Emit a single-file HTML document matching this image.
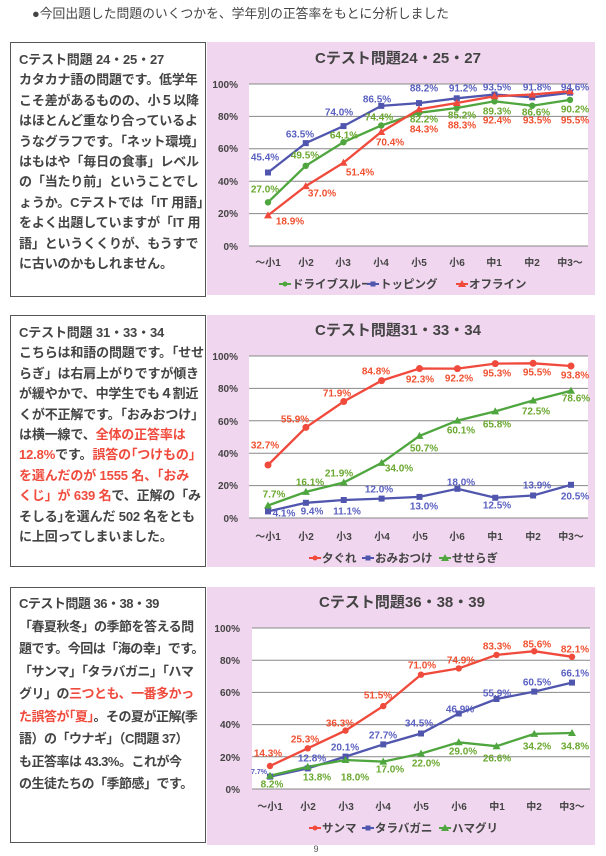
<!DOCTYPE html>
<html><head><meta charset="utf-8"><style>
body{margin:0;width:606px;height:856px;background:#fff;position:relative;overflow:hidden;font-family:"Liberation Sans","Noto Sans CJK JP",sans-serif;}
.hdr{position:absolute;left:32px;top:3px;font-size:12.8px;color:#444;white-space:nowrap;}
.box{position:absolute;left:10px;width:196px;border:1px solid #555;background:#fff;box-sizing:border-box;padding:4px 0 0 8px;font-size:13px;font-weight:bold;color:#444;white-space:nowrap;letter-spacing:-0.15px;}
.box div{height:20.4px;line-height:20.4px;}
.r{color:#f04a3c;}
svg{position:absolute;left:0;top:0;}
svg text{font-family:"Liberation Sans","Noto Sans CJK JP",sans-serif;font-weight:bold;}
polyline{stroke-width:2.3;}
</style></head><body>
<div class="hdr">●今回出題した問題のいくつかを、学年別の正答率をもとに分析しました</div>

<div class="box" style="top:42px;height:255px;padding-top:7px;">
<div>Cテスト問題 24・25・27</div>
<div>カタカナ語の問題です。低学年</div>
<div>こそ差があるものの、小５以降</div>
<div>はほとんど重なり合っているよ</div>
<div>うなグラフです。「ネット環境」</div>
<div>はもはや「毎日の食事」レベル</div>
<div>の「当たり前」ということでし</div>
<div>ょうか。Cテストでは「IT 用語」</div>
<div>をよく出題していますが「IT 用</div>
<div>語」というくくりが、もうすで</div>
<div>に古いのかもしれません。</div>
</div>

<div class="box" style="top:315px;height:252px;padding-top:7px;">
<div>Cテスト問題 31・33・34</div>
<div>こちらは和語の問題です。｢せせ</div>
<div>らぎ」は右肩上がりですが傾き</div>
<div>が緩やかで、中学生でも４割近</div>
<div>くが不正解です。「おみおつけ」</div>
<div>は横一線で、<span class="r">全体の正答率は</span></div>
<div><span class="r">12.8%</span>です。<span class="r">誤答の｢つけもの｣</span></div>
<div class="r">を選んだのが 1555 名、「おみ</div>
<div><span class="r">くじ」が 639 名</span>で、正解の「み</div>
<div>そしる｣を選んだ 502 名をとも</div>
<div>に上回ってしまいました。</div>
</div>

<div class="box" style="top:587px;height:256px;padding-top:5px;letter-spacing:-0.5px;">
<div style="height:22.5px;line-height:22.5px">Cテスト問題 36・38・39</div>
<div style="height:22.5px;line-height:22.5px">「春夏秋冬」の季節を答える問</div>
<div style="height:22.5px;line-height:22.5px">題です。今回は「海の幸」です。</div>
<div style="height:22.5px;line-height:22.5px">「サンマ」「タラバガニ」「ハマ</div>
<div style="height:22.5px;line-height:22.5px">グリ」の<span class="r">三つとも、一番多かっ</span></div>
<div style="height:22.5px;line-height:22.5px"><span class="r">た誤答が｢夏｣</span>。その夏が正解(季</div>
<div style="height:22.5px;line-height:22.5px">語）の「ウナギ」（C問題 37）</div>
<div style="height:22.5px;line-height:22.5px">も正答率は 43.3%。これが今</div>
<div style="height:22.5px;line-height:22.5px">の生徒たちの「季節感」です。</div>
</div>

<svg width="606" height="856" viewBox="0 0 606 856">
<defs>
<path id="tri" d="M0,-4 L4,3 L-4,3Z"/>
</defs>
<rect x="207" y="42" width="388" height="253" fill="#f1d6ef"/>
<rect x="207" y="315" width="388" height="252" fill="#f1d6ef"/>
<rect x="207" y="587" width="388" height="258" fill="#f1d6ef"/>

<!-- Chart 1 -->
<rect x="249" y="84" width="339" height="162" fill="#fff"/>
<g stroke="#888" stroke-width="1">
<line x1="249" y1="84" x2="588" y2="84"/><line x1="249" y1="116.4" x2="588" y2="116.4"/><line x1="249" y1="148.8" x2="588" y2="148.8"/><line x1="249" y1="181.2" x2="588" y2="181.2"/><line x1="249" y1="213.6" x2="588" y2="213.6"/><line x1="249" y1="246" x2="588" y2="246"/>
</g>
<text x="398" y="63" font-size="15" fill="#444" text-anchor="middle">Cテスト問題24・25・27</text>
<g font-size="10" fill="#444" text-anchor="end">
<text x="238" y="88">100%</text><text x="238" y="120">80%</text><text x="238" y="152">60%</text><text x="238" y="185">40%</text><text x="238" y="217">20%</text><text x="238" y="250">0%</text>
</g>
<g font-size="10" fill="#444" text-anchor="middle">
<text x="268" y="266">～小1</text><text x="306" y="266">小2</text><text x="343" y="266">小3</text><text x="381" y="266">小4</text><text x="419" y="266">小5</text><text x="457" y="266">小6</text><text x="494" y="266">中1</text><text x="532" y="266">中2</text><text x="570" y="266">中3～</text>
</g>
<polyline fill="none" stroke="#4fa63f" points="268,202.3 305.75,165.8 343.5,142.2 381.25,125.5 419,112.8 456.75,108 494.5,101.3 532.25,105.7 570,99.9"/>
<polyline fill="none" stroke="#5056ae" points="268,172.5 305.75,143.1 343.5,126.1 381.25,105.9 419,103.1 456.75,98.3 494.5,94.5 532.25,97.3 570,92.7"/>
<polyline fill="none" stroke="#f04a3c" points="268,215.4 305.75,186.1 343.5,162.7 381.25,132 419,109.4 456.75,103 494.5,96.3 532.25,94.5 570,91.3"/>
<g fill="#4fa63f"><circle cx="268" cy="202.3" r="3.2"/><circle cx="305.75" cy="165.8" r="3.2"/><circle cx="343.5" cy="142.2" r="3.2"/><circle cx="381.25" cy="125.5" r="3.2"/><circle cx="419" cy="112.8" r="3.2"/><circle cx="456.75" cy="108" r="3.2"/><circle cx="494.5" cy="101.3" r="3.2"/><circle cx="532.25" cy="105.7" r="3.2"/><circle cx="570" cy="99.9" r="3.2"/></g>
<g fill="#5056ae"><rect x="265" y="169.5" width="6" height="6"/><rect x="302.75" y="140.1" width="6" height="6"/><rect x="340.5" y="123.1" width="6" height="6"/><rect x="378.25" y="102.9" width="6" height="6"/><rect x="416" y="100.1" width="6" height="6"/><rect x="453.75" y="95.3" width="6" height="6"/><rect x="491.5" y="91.5" width="6" height="6"/><rect x="529.25" y="94.3" width="6" height="6"/><rect x="567" y="89.7" width="6" height="6"/></g>
<g fill="#f04a3c"><use href="#tri" x="268" y="215.4"/><use href="#tri" x="305.75" y="186.1"/><use href="#tri" x="343.5" y="162.7"/><use href="#tri" x="381.25" y="132"/><use href="#tri" x="419" y="109.4"/><use href="#tri" x="456.75" y="103"/><use href="#tri" x="494.5" y="96.3"/><use href="#tri" x="532.25" y="94.5"/><use href="#tri" x="570" y="91.3"/></g>
<g font-size="10" text-anchor="middle" dominant-baseline="middle">
<g fill="#5a60c0"><text x="265" y="158">45.4%</text><text x="300" y="135">63.5%</text><text x="339" y="113">74.0%</text><text x="377" y="100">86.5%</text><text x="424" y="89">88.2%</text><text x="463" y="89">91.2%</text><text x="497" y="88">93.5%</text><text x="537" y="88">91.8%</text><text x="575" y="88">94.6%</text></g>
<g fill="#6aa830"><text x="265" y="190">27.0%</text><text x="305" y="156">49.5%</text><text x="344" y="136">64.1%</text><text x="379" y="118">74.4%</text><text x="424" y="120">82.2%</text><text x="462" y="116">85.2%</text><text x="497" y="112">89.3%</text><text x="536" y="113">86.6%</text><text x="575" y="110">90.2%</text></g>
<g fill="#f05030"><text x="290" y="222">18.9%</text><text x="322" y="194">37.0%</text><text x="360" y="173">51.4%</text><text x="390" y="143">70.4%</text><text x="424" y="130">84.3%</text><text x="462" y="126">88.3%</text><text x="497" y="121">92.4%</text><text x="537" y="121">93.5%</text><text x="575" y="121">95.5%</text></g>
</g>
<g font-size="11.5" fill="#444">
<line x1="279" y1="284" x2="291" y2="284" stroke="#4fa63f" stroke-width="2"/><circle cx="285" cy="284" r="2.5" fill="#4fa63f"/><text x="292" y="288">ドライブスルー</text>
<line x1="367" y1="284" x2="379" y2="284" stroke="#5056ae" stroke-width="2"/><rect x="370.5" y="281.5" width="5" height="5" fill="#5056ae"/><text x="380" y="288">トッピング</text>
<line x1="456" y1="284" x2="468" y2="284" stroke="#f04a3c" stroke-width="2"/><use href="#tri" x="462" y="284" fill="#f04a3c"/><text x="469" y="288">オフライン</text>
</g>

<!-- Chart 2 -->
<rect x="249" y="356" width="339" height="162" fill="#fff"/>
<g stroke="#888" stroke-width="1">
<line x1="249" y1="356" x2="588" y2="356"/><line x1="249" y1="388.4" x2="588" y2="388.4"/><line x1="249" y1="420.8" x2="588" y2="420.8"/><line x1="249" y1="453.2" x2="588" y2="453.2"/><line x1="249" y1="485.6" x2="588" y2="485.6"/><line x1="249" y1="518" x2="588" y2="518"/>
</g>
<text x="398" y="335" font-size="15" fill="#444" text-anchor="middle">Cテスト問題31・33・34</text>
<g font-size="10" fill="#444" text-anchor="end">
<text x="238" y="360">100%</text><text x="238" y="392">80%</text><text x="238" y="425">60%</text><text x="238" y="457">40%</text><text x="238" y="489">20%</text><text x="238" y="522">0%</text>
</g>
<g font-size="10" fill="#444" text-anchor="middle">
<text x="268" y="540">～小1</text><text x="306" y="540">小2</text><text x="344" y="540">小3</text><text x="382" y="540">小4</text><text x="420" y="540">小5</text><text x="457" y="540">小6</text><text x="495" y="540">中1</text><text x="533" y="540">中2</text><text x="571" y="540">中3～</text>
</g>
<polyline fill="none" stroke="#f04a3c" points="268,465 305.9,427.4 343.75,401.5 381.6,380.6 419.5,368.5 457.4,368.6 495.25,363.6 533.1,363.3 571,366"/>
<polyline fill="none" stroke="#5056ae" points="268,511.4 305.9,502.8 343.75,500 381.6,498.6 419.5,496.9 457.4,488.8 495.25,497.75 533.1,495.5 571,484.8"/>
<polyline fill="none" stroke="#4fa63f" points="268,505.5 305.9,491.9 343.75,482.5 381.6,462.9 419.5,435.9 457.4,420.6 495.25,411.4 533.1,400.5 571,390.7"/>
<g fill="#f04a3c"><circle cx="268" cy="465" r="3.5"/><circle cx="305.9" cy="427.4" r="3.5"/><circle cx="343.75" cy="401.5" r="3.5"/><circle cx="381.6" cy="380.6" r="3.5"/><circle cx="419.5" cy="368.5" r="3.5"/><circle cx="457.4" cy="368.6" r="3.5"/><circle cx="495.25" cy="363.6" r="3.5"/><circle cx="533.1" cy="363.3" r="3.5"/><circle cx="571" cy="366" r="3.5"/></g>
<g fill="#5056ae"><rect x="265" y="508.4" width="6" height="6"/><rect x="302.9" y="499.8" width="6" height="6"/><rect x="340.75" y="497" width="6" height="6"/><rect x="378.6" y="495.6" width="6" height="6"/><rect x="416.5" y="493.9" width="6" height="6"/><rect x="454.4" y="485.8" width="6" height="6"/><rect x="492.25" y="494.75" width="6" height="6"/><rect x="530.1" y="492.5" width="6" height="6"/><rect x="568" y="481.8" width="6" height="6"/></g>
<g fill="#4fa63f"><use href="#tri" x="268" y="505.5"/><use href="#tri" x="305.9" y="491.9"/><use href="#tri" x="343.75" y="482.5"/><use href="#tri" x="381.6" y="462.9"/><use href="#tri" x="419.5" y="435.9"/><use href="#tri" x="457.4" y="420.6"/><use href="#tri" x="495.25" y="411.4"/><use href="#tri" x="533.1" y="400.5"/><use href="#tri" x="571" y="390.7"/></g>
<g font-size="10" text-anchor="middle" dominant-baseline="middle">
<g fill="#f05030"><text x="265" y="446">32.7%</text><text x="295" y="420">55.9%</text><text x="337" y="394">71.9%</text><text x="376" y="372">84.8%</text><text x="420" y="380">92.3%</text><text x="459" y="379">92.2%</text><text x="497" y="374">95.3%</text><text x="537" y="373">95.5%</text><text x="575" y="376">93.8%</text></g>
<g fill="#6aa830"><text x="274" y="495">7.7%</text><text x="310" y="483">16.1%</text><text x="339" y="474">21.9%</text><text x="399" y="469">34.0%</text><text x="424" y="449">50.7%</text><text x="461" y="431">60.1%</text><text x="497" y="425">65.8%</text><text x="536" y="412">72.5%</text><text x="576" y="399">78.6%</text></g>
<g fill="#5a60c0"><text x="284" y="514">4.1%</text><text x="312" y="512">9.4%</text><text x="347" y="512">11.1%</text><text x="379" y="490">12.0%</text><text x="424" y="507">13.0%</text><text x="461" y="483">18.0%</text><text x="497" y="506">12.5%</text><text x="537" y="486">13.9%</text><text x="575" y="497">20.5%</text></g>
</g>
<g font-size="11.5" fill="#444">
<line x1="309" y1="558" x2="321" y2="558" stroke="#f04a3c" stroke-width="2"/><circle cx="315" cy="558" r="2.5" fill="#f04a3c"/><text x="322" y="562">夕ぐれ</text>
<line x1="362" y1="558" x2="374" y2="558" stroke="#5056ae" stroke-width="2"/><rect x="365.5" y="555.5" width="5" height="5" fill="#5056ae"/><text x="375" y="562">おみおつけ</text>
<line x1="439" y1="558" x2="451" y2="558" stroke="#4fa63f" stroke-width="2"/><use href="#tri" x="445" y="558" fill="#4fa63f"/><text x="452" y="562">せせらぎ</text>
</g>

<!-- Chart 3 -->
<rect x="252" y="628" width="338" height="161" fill="#fff"/>
<g stroke="#888" stroke-width="1">
<line x1="252" y1="628" x2="590" y2="628"/><line x1="252" y1="660.2" x2="590" y2="660.2"/><line x1="252" y1="692.4" x2="590" y2="692.4"/><line x1="252" y1="724.6" x2="590" y2="724.6"/><line x1="252" y1="756.8" x2="590" y2="756.8"/><line x1="252" y1="789" x2="590" y2="789"/>
</g>
<text x="402" y="607" font-size="15" fill="#444" text-anchor="middle">Cテスト問題36・38・39</text>
<g font-size="10" fill="#444" text-anchor="end">
<text x="240" y="632">100%</text><text x="240" y="664">80%</text><text x="240" y="696">60%</text><text x="240" y="728">40%</text><text x="240" y="761">20%</text><text x="240" y="793">0%</text>
</g>
<g font-size="10" fill="#444" text-anchor="middle">
<text x="270" y="810">～小1</text><text x="308" y="810">小2</text><text x="346" y="810">小3</text><text x="383" y="810">小4</text><text x="421" y="810">小5</text><text x="459" y="810">小6</text><text x="497" y="810">中1</text><text x="534" y="810">中2</text><text x="572" y="810">中3～</text>
</g>
<polyline fill="none" stroke="#f04a3c" points="270,766 307.75,748.3 345.5,730.6 383.25,706.1 421,674.7 458.75,668.4 496.5,654.9 534.25,651.2 572,656.8"/>
<polyline fill="none" stroke="#5056ae" points="270,776.6 307.75,768.4 345.5,756.6 383.25,744.4 421,733.5 458.75,713.5 496.5,699 534.25,691.6 572,682.6"/>
<polyline fill="none" stroke="#4fa63f" points="270,775.8 307.75,766.8 345.5,760 383.25,761.6 421,753.6 458.75,742.3 496.5,746.2 534.25,733.9 572,733"/>
<g fill="#f04a3c"><circle cx="270" cy="766" r="3.2"/><circle cx="307.75" cy="748.3" r="3.2"/><circle cx="345.5" cy="730.6" r="3.2"/><circle cx="383.25" cy="706.1" r="3.2"/><circle cx="421" cy="674.7" r="3.2"/><circle cx="458.75" cy="668.4" r="3.2"/><circle cx="496.5" cy="654.9" r="3.2"/><circle cx="534.25" cy="651.2" r="3.2"/><circle cx="572" cy="656.8" r="3.2"/></g>
<g fill="#5056ae"><rect x="267" y="773.6" width="6" height="6"/><rect x="304.75" y="765.4" width="6" height="6"/><rect x="342.5" y="753.6" width="6" height="6"/><rect x="380.25" y="741.4" width="6" height="6"/><rect x="418" y="730.5" width="6" height="6"/><rect x="455.75" y="710.5" width="6" height="6"/><rect x="493.5" y="696" width="6" height="6"/><rect x="531.25" y="688.6" width="6" height="6"/><rect x="569" y="679.6" width="6" height="6"/></g>
<g fill="#4fa63f"><use href="#tri" x="270" y="775.8"/><use href="#tri" x="307.75" y="766.8"/><use href="#tri" x="345.5" y="760"/><use href="#tri" x="383.25" y="761.6"/><use href="#tri" x="421" y="753.6"/><use href="#tri" x="458.75" y="742.3"/><use href="#tri" x="496.5" y="746.2"/><use href="#tri" x="534.25" y="733.9"/><use href="#tri" x="572" y="733"/></g>
<g font-size="10" text-anchor="middle" dominant-baseline="middle">
<g fill="#f05030"><text x="268" y="754">14.3%</text><text x="305" y="740">25.3%</text><text x="340" y="724">36.3%</text><text x="378" y="696">51.5%</text><text x="422" y="666">71.0%</text><text x="461" y="661">74.9%</text><text x="497" y="647">83.3%</text><text x="537" y="645">85.6%</text><text x="575" y="650">82.1%</text></g>
<g fill="#5a60c0"><text x="259" y="772" font-size="7">7.7%</text><text x="312" y="759">12.8%</text><text x="345" y="748">20.1%</text><text x="383" y="736">27.7%</text><text x="419" y="724">34.5%</text><text x="460" y="710">46.9%</text><text x="497" y="694">55.9%</text><text x="537" y="683">60.5%</text><text x="575" y="674">66.1%</text></g>
<g fill="#6aa830"><text x="272" y="785">8.2%</text><text x="317" y="778">13.8%</text><text x="355" y="778">18.0%</text><text x="390" y="770">17.0%</text><text x="426" y="764">22.0%</text><text x="463" y="752">29.0%</text><text x="497" y="759">26.6%</text><text x="537" y="747">34.2%</text><text x="575" y="747">34.8%</text></g>
</g>
<g font-size="11.5" fill="#444">
<line x1="309" y1="828" x2="321" y2="828" stroke="#f04a3c" stroke-width="2"/><circle cx="315" cy="828" r="2.5" fill="#f04a3c"/><text x="322" y="832">サンマ</text>
<line x1="362" y1="828" x2="374" y2="828" stroke="#5056ae" stroke-width="2"/><rect x="365.5" y="825.5" width="5" height="5" fill="#5056ae"/><text x="375" y="832">タラバガニ</text>
<line x1="439" y1="828" x2="451" y2="828" stroke="#4fa63f" stroke-width="2"/><use href="#tri" x="445" y="828" fill="#4fa63f"/><text x="452" y="832">ハマグリ</text>
</g>
<text x="316" y="852" font-size="9" fill="#555" text-anchor="middle" style="font-weight:normal">9</text>
</svg>
</body></html>
